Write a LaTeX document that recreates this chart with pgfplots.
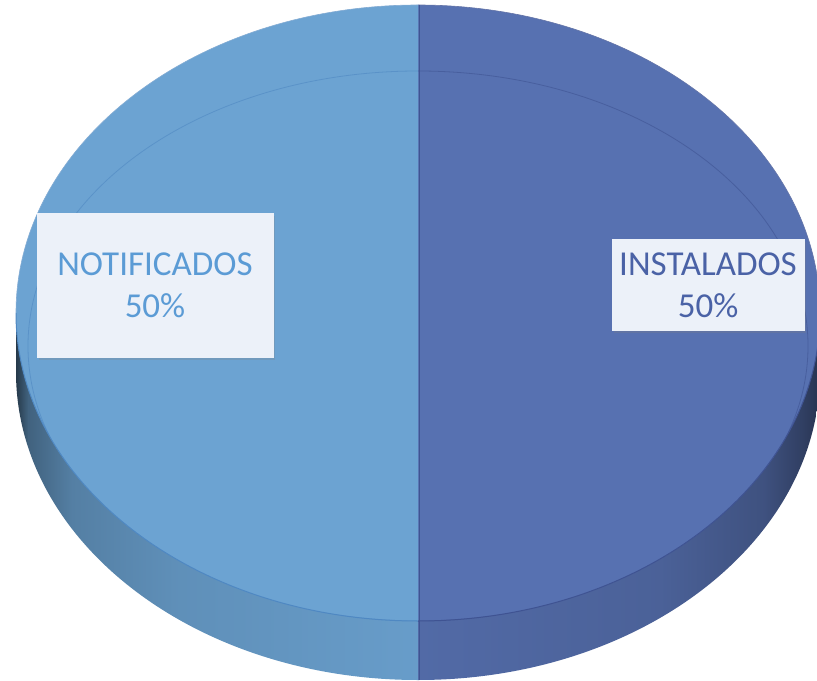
\documentclass[border=0pt]{standalone}
\usepackage{pgfplots}
\pgfplotsset{compat=1.18}
\usepackage{pgfplotstable}
\usepackage{fontspec}
\setmainfont{Carlito}
\usetikzlibrary{shadows}

\definecolor{faceL}{HTML}{6CA3D2}
\definecolor{faceR}{HTML}{5771B1}
\definecolor{edgeL}{HTML}{4F88C2}
\definecolor{edgeR}{HTML}{3F5392}
\definecolor{txtL}{HTML}{5B9BD5}
\definecolor{txtR}{HTML}{4A62A6}
\definecolor{boxfill}{HTML}{ECF1F9}

% path covers 25bp..75bp of the shading
\pgfdeclarehorizontalshading{sideL}{100bp}{color(0bp)=(black!65!faceL); color(25bp)=(black!65!faceL);
  color(26.5bp)=(black!40!faceL); color(32bp)=(black!22!faceL); color(45bp)=(black!12!faceL);
  color(75bp)=(black!4!faceL); color(100bp)=(black!4!faceL)}
\pgfdeclarehorizontalshading{sideR}{100bp}{color(0bp)=(faceR!94!black); color(25bp)=(faceR!94!black);
  color(55bp)=(faceR!86!black); color(68bp)=(faceR!72!black); color(73bp)=(faceR!55!black);
  color(75bp)=(faceR!45!black); color(100bp)=(faceR!45!black)}

\pgfplotstableread{
label value
INSTALADOS 50
NOTIFICADOS 50
}\piedata

\pgfplotstablegetelem{0}{value}\of\piedata \let\va\pgfplotsretval
\pgfplotstablegetelem{1}{value}\of\piedata \let\vb\pgfplotsretval
\pgfmathsetmacro\fa{\va/(\va+\vb)}
\pgfmathsetmacro\split{90-360*\fa}
\pgfmathsetmacro\pa{int(round(100*\fa))}
\pgfmathsetmacro\pb{int(round(100-100*\fa))}
% 1 axis unit = 0.5pt
\tikzset{rx/.style={x radius=#1*0.5pt},ry/.style={y radius=#1*0.5pt}}

\begin{document}
\begin{tikzpicture}
\useasboundingbox (0,0) rectangle (408.5pt,340pt);
\clip (0,0) rectangle (408.5pt,340pt);
\begin{axis}[at={(0,0)},anchor=south west,scale only axis,
 width=408.5pt,height=340pt,
 xmin=0,xmax=817,ymin=0,ymax=680,
 hide axis,clip=false]
% side walls (front half)
\path[shading=sideL] (axis cs:16,367) arc[start angle=180,end angle=270,rx=402,ry=308]
 -- (axis cs:418,0) arc[start angle=270,end angle=180,rx=402,ry=308] -- cycle;
\path[shading=sideR] (axis cs:418,59) arc[start angle=270,end angle=360,rx=402,ry=308]
 -- (axis cs:820,308) arc[start angle=360,end angle=270,rx=402,ry=308] -- cycle;
% top faces
\fill[faceR] (axis cs:418,367) -- (axis cs:418,675) arc[start angle=90,end angle=\split,rx=402,ry=308] -- cycle;
\fill[faceL] (axis cs:418,367) -- (axis cs:418,675) arc[start angle=90,end angle=270,rx=402,ry=308] -- cycle;
% bevel line
\begin{scope}
\clip (axis cs:418,367) ellipse[rx=402,ry=308];
\draw[edgeL,opacity=.6,line width=.4pt] (axis cs:418,59) arc[start angle=270,end angle=90,rx=390,ry=275];
\draw[edgeR,opacity=.6,line width=.4pt] (axis cs:418,609) arc[start angle=90,end angle=-90,rx=390,ry=275];
\end{scope}
% rim lines
\draw[edgeL,line width=.5pt] (axis cs:16,367) arc[start angle=180,end angle=270,rx=402,ry=308];
\draw[edgeR,line width=.5pt] (axis cs:418,59) arc[start angle=270,end angle=360,rx=402,ry=308];
\draw[edgeL!70!white,line width=.3pt] (axis cs:418,675) arc[start angle=90,end angle=180,rx=402,ry=308];
\draw[edgeR!80!white,line width=.3pt] (axis cs:418,675) arc[start angle=90,end angle=0,rx=402,ry=308];
% divider
\draw[edgeR,line width=.5pt] (axis cs:419,675) -- (axis cs:419,0);
% labels
\node[fill=boxfill,draw=boxfill,minimum width=118pt,minimum height=72pt,
 drop shadow={opacity=.25,shadow xshift=1pt,shadow yshift=-1.5pt}] at (axis cs:155,395) {};
\node[text=txtL,align=center,font=\fontsize{17.5}{21}\selectfont] at (axis cs:155,395) {NOTIFICADOS\\\pb\%};
\node[fill=boxfill,draw=boxfill,minimum width=96pt,minimum height=45.5pt,
 drop shadow={opacity=.25,shadow xshift=1pt,shadow yshift=-1.5pt}] at (axis cs:708,395) {};
\node[text=txtR,align=center,font=\fontsize{17.5}{21}\selectfont] at (axis cs:708,395) {INSTALADOS\\\pa\%};
\end{axis}
\end{tikzpicture}
\end{document}
